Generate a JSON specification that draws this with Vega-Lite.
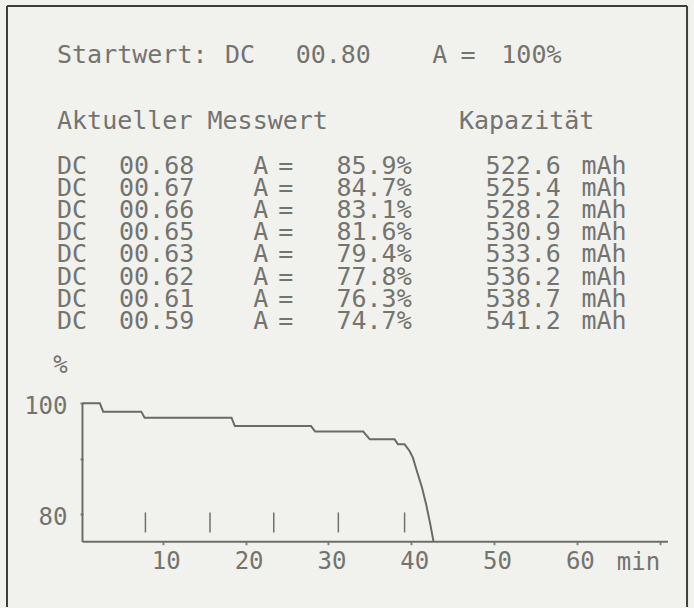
{
  "$schema": "https://vega.github.io/schema/vega-lite/v6.json",
  "width": 694,
  "height": 608,
  "autosize": {"type": "fit", "contains": "padding"},
  "padding": 0,
  "background": "#f1f1ee",
  "config": {
    "view": {"stroke": null},
    "font": "DejaVu Sans Mono",
    "text": {"font": "DejaVu Sans Mono", "fontSize": 25, "color": "#74746f", "align": "left", "baseline": "middle"},
    "axis": {
      "labelFont": "DejaVu Sans Mono", "labelFontSize": 24, "labelColor": "#74746f",
      "titleFont": "DejaVu Sans Mono", "titleFontSize": 24, "titleColor": "#74746f", "titleFontWeight": "normal",
      "grid": false, "domain": false, "tickColor": "#85857f", "tickWidth": 2, "tickSize": 3
    }
  },
  "datasets": {
    "verlauf": [
      {"Zeit": 0.3, "Anteil": 100},
      {"Zeit": 2.4, "Anteil": 100},
      {"Zeit": 2.8, "Anteil": 98.5},
      {"Zeit": 7.4, "Anteil": 98.5},
      {"Zeit": 7.8, "Anteil": 97.4},
      {"Zeit": 18.3, "Anteil": 97.4},
      {"Zeit": 18.7, "Anteil": 95.9},
      {"Zeit": 27.9, "Anteil": 95.9},
      {"Zeit": 28.4, "Anteil": 94.9},
      {"Zeit": 34.2, "Anteil": 94.9},
      {"Zeit": 35.0, "Anteil": 93.5},
      {"Zeit": 38.0, "Anteil": 93.5},
      {"Zeit": 38.4, "Anteil": 92.6},
      {"Zeit": 39.2, "Anteil": 92.6},
      {"Zeit": 39.8, "Anteil": 91.4},
      {"Zeit": 40.2, "Anteil": 90.2},
      {"Zeit": 40.7, "Anteil": 87.7},
      {"Zeit": 41.3, "Anteil": 84.8},
      {"Zeit": 41.8, "Anteil": 81.8},
      {"Zeit": 42.3, "Anteil": 78.2},
      {"Zeit": 42.7, "Anteil": 75.0}
    ],
    "marken": [
      {"Zeit": 7.9}, {"Zeit": 15.7}, {"Zeit": 23.4}, {"Zeit": 31.2}, {"Zeit": 39.2}
    ],
    "start": [{"Strom": 0.80, "Anteil": 1.0}],
    "messwerte": [
      {"Nr": 1, "Strom": 0.68, "Anteil": 0.859, "Kapazitaet": 522.6},
      {"Nr": 2, "Strom": 0.67, "Anteil": 0.847, "Kapazitaet": 525.4},
      {"Nr": 3, "Strom": 0.66, "Anteil": 0.831, "Kapazitaet": 528.2},
      {"Nr": 4, "Strom": 0.65, "Anteil": 0.816, "Kapazitaet": 530.9},
      {"Nr": 5, "Strom": 0.63, "Anteil": 0.794, "Kapazitaet": 533.6},
      {"Nr": 6, "Strom": 0.62, "Anteil": 0.778, "Kapazitaet": 536.2},
      {"Nr": 7, "Strom": 0.61, "Anteil": 0.763, "Kapazitaet": 538.7},
      {"Nr": 8, "Strom": 0.59, "Anteil": 0.747, "Kapazitaet": 541.2}
    ],
    "leer": [{}]
  },
  "layer": [
    {
      "layer": [
        {
          "data": {"name": "leer"},
          "mark": {"type": "rule", "color": "#3e3e3c", "strokeWidth": 2},
          "encoding": {
            "x": {"datum": -8.815, "type": "quantitative", "scale": {"domain": [-9.66, 74.15], "nice": false, "zero": false}},
            "y": {"datum": 171.71, "type": "quantitative", "scale": {"domain": [63.24, 172.79], "nice": false, "zero": false}},
            "y2": {"datum": 63.24}
          }
        },
        {
          "data": {"name": "leer"},
          "mark": {"type": "rule", "color": "#3e3e3c", "strokeWidth": 2},
          "encoding": {
            "x": {"datum": 73.31, "type": "quantitative"},
            "y": {"datum": 171.71, "type": "quantitative"},
            "y2": {"datum": 63.24}
          }
        },
        {
          "data": {"name": "leer"},
          "mark": {"type": "rule", "color": "#3e3e3c", "strokeWidth": 2},
          "encoding": {
            "x": {"datum": -8.815, "type": "quantitative"},
            "x2": {"datum": 73.31},
            "y": {"datum": 171.71, "type": "quantitative"}
          }
        },
        {
          "data": {"name": "leer"},
          "mark": {"type": "rule", "color": "#6d6d68", "strokeWidth": 2},
          "encoding": {
            "x": {"datum": 0.3, "type": "quantitative"},
            "x2": {"datum": 71.0},
            "y": {"datum": 75, "type": "quantitative"}
          }
        },
        {
          "data": {"name": "leer"},
          "mark": {"type": "rule", "color": "#6d6d68", "strokeWidth": 2},
          "encoding": {
            "x": {"datum": 0.3, "type": "quantitative"},
            "y": {"datum": 75, "type": "quantitative"},
            "y2": {"datum": 100}
          }
        },
        {
          "data": {"name": "marken"},
          "mark": {"type": "rule", "color": "#707070", "strokeWidth": 1.5},
          "encoding": {
            "x": {"field": "Zeit", "type": "quantitative"},
            "y": {"datum": 76.7, "type": "quantitative"},
            "y2": {"datum": 80.3}
          }
        },
        {
          "data": {"name": "verlauf"},
          "mark": {"type": "line", "color": "#6b6b66", "strokeWidth": 2},
          "encoding": {
            "x": {
              "field": "Zeit", "type": "quantitative",
              "axis": {
                "orient": "bottom", "offset": -65.3,
                "values": [10, 20, 30, 40, 50, 60, 70],
                "labelExpr": "datum.value == 70 ? '' : datum.label",
                "labelBaseline": "middle", "labelPadding": 17, "labelOffset": 3,
                "title": "min", "titleX": 638, "titleY": 20.5, "titleAlign": "center", "titleBaseline": "middle"
              }
            },
            "y": {
              "field": "Anteil", "type": "quantitative",
              "axis": {
                "orient": "left", "offset": -83,
                "values": [80, 90, 100],
                "labelExpr": "datum.value == 90 ? '' : datum.label",
                "labelPadding": 13, "labelOffset": 3, "labelAlign": "right", "labelBaseline": "middle",
                "title": "%", "titleAngle": 0, "titleX": -23, "titleY": 365, "titleAlign": "center", "titleBaseline": "middle"
              }
            }
          }
        }
      ]
    },
    {
      "layer": [
        {
          "data": {"name": "start"},
          "mark": {"type": "text"},
          "encoding": {
            "text": {"value": "Startwert:"},
            "x": {"datum": 0, "type": "quantitative", "axis": null, "scale": {"domain": [-3.6306, 40.573], "nice": false, "zero": false}},
            "y": {"datum": -4, "type": "quantitative", "axis": null, "scale": {"domain": [-6.4775, 20.91], "nice": false, "zero": false, "reverse": true}}
          }
        },
        {
          "data": {"name": "start"},
          "mark": {"type": "text"},
          "encoding": {
            "text": {"value": "DC"},
            "x": {"datum": 10.7, "type": "quantitative"},
            "y": {"datum": -4, "type": "quantitative"}
          }
        },
        {
          "data": {"name": "start"},
          "mark": {"type": "text"},
          "encoding": {
            "text": {"field": "Strom", "type": "quantitative", "format": "05.2f"},
            "x": {"datum": 15.2, "type": "quantitative"},
            "y": {"datum": -4, "type": "quantitative"}
          }
        },
        {
          "data": {"name": "start"},
          "mark": {"type": "text"},
          "encoding": {
            "text": {"value": "A"},
            "x": {"datum": 23.9, "type": "quantitative"},
            "y": {"datum": -4, "type": "quantitative"}
          }
        },
        {
          "data": {"name": "start"},
          "mark": {"type": "text"},
          "encoding": {
            "text": {"value": "="},
            "x": {"datum": 25.7, "type": "quantitative"},
            "y": {"datum": -4, "type": "quantitative"}
          }
        },
        {
          "data": {"name": "start"},
          "mark": {"type": "text"},
          "encoding": {
            "text": {"field": "Anteil", "type": "quantitative", "format": ".0%"},
            "x": {"datum": 28.3, "type": "quantitative"},
            "y": {"datum": -4, "type": "quantitative"}
          }
        },
        {
          "data": {"name": "leer"},
          "mark": {"type": "text"},
          "encoding": {
            "text": {"value": "Aktueller Messwert"},
            "x": {"datum": 0, "type": "quantitative"},
            "y": {"datum": -1, "type": "quantitative"}
          }
        },
        {
          "data": {"name": "leer"},
          "mark": {"type": "text"},
          "encoding": {
            "text": {"value": "Kapazität"},
            "x": {"datum": 25.6, "type": "quantitative"},
            "y": {"datum": -1, "type": "quantitative"}
          }
        },
        {
          "data": {"name": "messwerte"},
          "mark": {"type": "text"},
          "encoding": {
            "text": {"value": "DC"},
            "x": {"datum": 0, "type": "quantitative"},
            "y": {"field": "Nr", "type": "quantitative"}
          }
        },
        {
          "data": {"name": "messwerte"},
          "mark": {"type": "text"},
          "encoding": {
            "text": {"field": "Strom", "type": "quantitative", "format": "05.2f"},
            "x": {"datum": 3.95, "type": "quantitative"},
            "y": {"field": "Nr", "type": "quantitative"}
          }
        },
        {
          "data": {"name": "messwerte"},
          "mark": {"type": "text"},
          "encoding": {
            "text": {"value": "A"},
            "x": {"datum": 12.5, "type": "quantitative"},
            "y": {"field": "Nr", "type": "quantitative"}
          }
        },
        {
          "data": {"name": "messwerte"},
          "mark": {"type": "text"},
          "encoding": {
            "text": {"value": "="},
            "x": {"datum": 14.1, "type": "quantitative"},
            "y": {"field": "Nr", "type": "quantitative"}
          }
        },
        {
          "data": {"name": "messwerte"},
          "mark": {"type": "text"},
          "encoding": {
            "text": {"field": "Anteil", "type": "quantitative", "format": ".1%"},
            "x": {"datum": 17.8, "type": "quantitative"},
            "y": {"field": "Nr", "type": "quantitative"}
          }
        },
        {
          "data": {"name": "messwerte"},
          "mark": {"type": "text"},
          "encoding": {
            "text": {"field": "Kapazitaet", "type": "quantitative", "format": ".1f"},
            "x": {"datum": 27.3, "type": "quantitative"},
            "y": {"field": "Nr", "type": "quantitative"}
          }
        },
        {
          "data": {"name": "messwerte"},
          "mark": {"type": "text"},
          "encoding": {
            "text": {"value": "mAh"},
            "x": {"datum": 33.4, "type": "quantitative"},
            "y": {"field": "Nr", "type": "quantitative"}
          }
        }
      ]
    }
  ],
  "resolve": {"scale": {"x": "independent", "y": "independent"}}
}
